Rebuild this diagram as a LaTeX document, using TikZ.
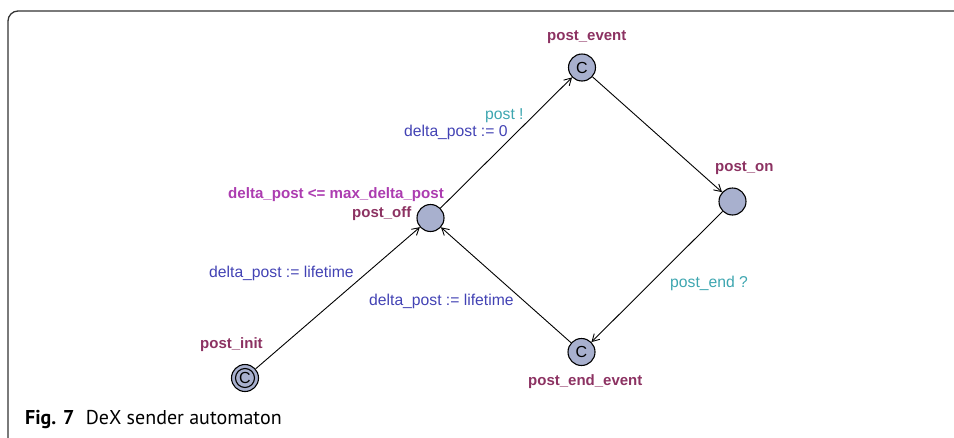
\documentclass[tikz,border=0pt]{standalone}
\usepackage{fontspec}
\setsansfont{Liberation Sans}
\newfontfamily\capfont{PT Sans}
\usetikzlibrary{arrows.meta}
\definecolor{locfill}{RGB}{168,176,206}
\definecolor{locname}{RGB}{140,50,98}
\definecolor{invcol}{RGB}{172,60,176}
\definecolor{synccol}{RGB}{62,166,176}
\definecolor{updcol}{RGB}{66,66,180}
\begin{document}
\begin{tikzpicture}[x=1pt,y=-1pt]
% Node styles ---
\tikzstyle{loc} = [circle, line width = 1.1pt, minimum size = 27pt, inner sep = 0pt, draw = black, fill = locfill, font = \sffamily\fontsize{16}{16}\selectfont] % Locations
\tikzstyle{lname} = [anchor = base west, inner sep = 0pt, text = locname, font = \sffamily\bfseries\fontsize{15}{18}\selectfont] % Location names
\tikzstyle{inv} = [anchor = base west, inner sep = 0pt, text = invcol, font = \sffamily\bfseries\fontsize{15.1}{18}\selectfont] % Invariants
\tikzstyle{sync} = [anchor = base west, inner sep = 0pt, text = synccol, font = \sffamily\fontsize{15.7}{18}\selectfont] % Synchronisations
\tikzstyle{upd} = [anchor = base west, inner sep = 0pt, text = updcol, font = \sffamily\fontsize{15.7}{18}\selectfont] % Updates
% Edge styles
\tikzstyle{con} = [-{Straight Barb[length = 7pt, width = 8pt]}, line width = 0.9pt] % Transitions
% Begin Figure ---
\useasboundingbox (0,0) rectangle (954,437);
% Frame
\draw [rounded corners = 10pt, line width = 1.3pt, black!80] (8,470) -- (8,11) -- (990,11);
% Locations
\node at (245.0,378.0) [loc] (init) {C};
\draw [line width = 1.1pt] (init.center) circle (9.5pt);
\node at (430.5,218.0) [loc] (off) {};
\node at (582.0,67.5) [loc] (event) {C};
\node at (732.5,201.5) [loc] (on) {};
\node at (581.5,352.0) [loc] (endevent) {C};
% Names
\node at (200,348) [lname] (initname) {post\_init};
\node at (352,217) [lname] (offname) {post\_off};
\node at (547,40) [lname] (eventname) {post\_event};
\node at (715,171) [lname] (onname) {post\_on};
\node at (528,385) [lname] (endeventname) {post\_end\_event};
\node at (228,198) [inv] (offinv) {delta\_post <= max\_delta\_post};
% Paths
\path (init) edge [con] (off);
\path (off) edge [con] (event);
\path (event) edge [con] (on);
\path (on) edge [con] (endevent);
\path (endevent) edge [con] (off);
% Labels
\node at (209,277) [upd] (initupd) {delta\_post := lifetime};
\node at (485,119) [sync] (offsync) {post !};
\node at (404,136) [upd] (offupd) {delta\_post := 0};
\node at (670,287) [sync] (onsync) {post\_end ?};
\node at (369,305) [upd] (endupd) {delta\_post := lifetime};
% Caption
\node at (25,424) [anchor = base west, inner sep = 0pt, font = \capfont\fontsize{20}{20}\selectfont] (caption) {\textbf{Fig. 7}\hspace{0.3em} DeX sender automaton};
\end{tikzpicture}
\end{document}
